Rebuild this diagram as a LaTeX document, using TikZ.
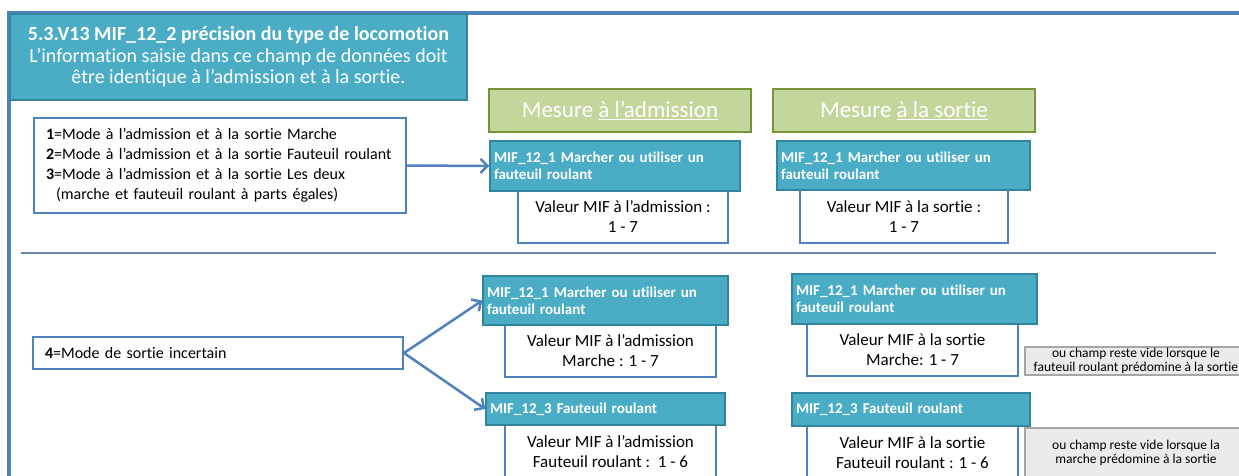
\documentclass[tikz,border=0pt]{standalone}
\usepackage{fontspec}
\setmainfont{Carlito}[Ligatures=NoCommon]
\usepackage{xcolor}
\usepackage{tikz}
\usetikzlibrary{arrows.meta,positioning,calc}

\definecolor{cadrebleu}{HTML}{4F81BD}
\definecolor{lignegris}{HTML}{6A86B0}
\definecolor{mifbleu}{HTML}{4BACC6}
\definecolor{mifbord}{HTML}{31859C}
\definecolor{vertclair}{HTML}{C3D69B}
\definecolor{vertfonce}{HTML}{77933C}
\definecolor{notefond}{HTML}{EBEBEB}
\definecolor{notebord}{HTML}{A6A6A6}

\tikzset{
  titre/.style={draw=mifbord, fill=mifbleu, line width=2pt, text=white, align=center,
    font=\fontsize{20}{21.5}\selectfont, minimum width=457pt, minimum height=86pt, inner sep=0pt},
  liste/.style={draw=cadrebleu, fill=white, line width=2pt, align=left,
    font=\fontsize{16}{20}\selectfont, inner xsep=12pt, inner ysep=0pt},
  mesure/.style={draw=vertfonce, fill=vertclair, line width=2.5pt, text=white,
    font=\fontsize{23}{24}\selectfont, minimum width=262pt, minimum height=43pt},
  mif/.style={draw=mifbord, fill=mifbleu, line width=1.5pt, text=white, align=left,
    font=\bfseries\fontsize{15}{17}\selectfont, inner xsep=4pt, inner ysep=0pt},
  valeur/.style={draw=cadrebleu, fill=white, line width=2pt, align=center,
    font=\fontsize{17}{20}\selectfont, minimum width=211pt, minimum height=52pt, inner sep=0pt},
  note/.style={draw=notebord, fill=notefond, line width=1.5pt, align=center,
    font=\fontsize{13.5}{14.5}\selectfont, minimum width=222pt, inner sep=0pt},
  fleche/.style={draw=cadrebleu, line width=2.5pt, -{Straight Barb[length=7pt,width=14pt]}}
}

\begin{document}
\begin{tikzpicture}[x=1pt,y=-1pt]
\clip (0,0) rectangle (1239,476);
\fill[white] (0,0) rectangle (1239,476);

% cadre et separation
\draw[draw=cadrebleu, line width=3.5pt] (1250,13) -- (9,13) -- (9,490);
\draw[draw=lignegris, line width=2pt] (21,253) -- (1216,253);

% titre
\node[titre] (titre) at (238.5,57) {\textbf{5.3.V13 MIF\_12\_2 précision du type de locomotion}\\
  L’information saisie dans ce champ de données doit\\
  être identique à l’admission et à la sortie.};

% en-tetes
\node[mesure] (mesadm) at (620,110.5) {Mesure \underline{à l’admission}};
\node[mesure] (messor) at (904,110.5) {Mesure \underline{à la sortie}};

% modes 1 a 3
\node[liste, text width=348pt, minimum height=95pt] (modes) at (220,165.5) {%
  \textbf{1}=Mode à l’admission et à la sortie Marche\\
  \textbf{2}=Mode à l’admission et à la sortie Fauteuil roulant\\
  \textbf{3}=Mode à l’admission et à la sortie Les deux\\
  \hspace*{10pt}(marche et fauteuil roulant à parts égales)};

\node[valeur, minimum width=210pt, minimum height=53pt] (valadm) at (623,216.5) {Valeur MIF à l’admission :\\1 - 7};
\node[valeur, minimum width=208pt, minimum height=53pt] (valsor) at (904,216.5) {Valeur MIF à la sortie :\\1 - 7};
\node[mif, text width=242pt, minimum height=50pt] (mifadm) at (615,166) {MIF\_12\_1 Marcher ou utiliser un\\fauteuil roulant};
\node[mif, text width=245pt, minimum height=49pt] (mifsor) at (903.5,165.5) {MIF\_12\_1 Marcher ou utiliser un\\fauteuil roulant};

\draw[fleche] (modes.east) -- (mifadm.west);

% mode 4
\node[liste, text width=346pt, minimum height=32pt] (incertain) at (218,353) {\textbf{4}=Mode de sortie incertain};

\node[valeur] (valadmm) at (610.5,351) {Valeur MIF à l’admission\\Marche : 1 - 7};
\node[mif, text width=237pt, minimum height=49pt] (mifadmm) at (605.5,300.5) {MIF\_12\_1 Marcher ou utiliser un\\fauteuil roulant};
\node[valeur, minimum height=53pt] (valadmf) at (610.5,451.5) {Valeur MIF à l’admission\\Fauteuil roulant :\ \ 1 - 6};
\node[mif, text width=231pt, minimum height=32pt] (mifadmf) at (605.5,409) {MIF\_12\_3 Fauteuil roulant};

\node[valeur] (valsorm) at (912.5,350) {Valeur MIF à la sortie\\Marche: 1 - 7};
\node[mif, text width=237pt, minimum height=50pt] (mifsorm) at (914.5,299) {MIF\_12\_1 Marcher ou utiliser un\\fauteuil roulant};
\node[valeur, minimum height=53pt] (valsorf) at (912.5,452.5) {Valeur MIF à la sortie\\Fauteuil roulant : 1 - 6};
\node[mif, text width=230pt, minimum height=33pt] (mifsorf) at (911,409.5) {MIF\_12\_3 Fauteuil roulant};

\node[note, minimum height=28pt] (notem) at (1136,361) {ou champ reste vide lorsque le\\fauteuil roulant prédomine à la sortie};
\node[note, minimum height=50pt] (notef) at (1136,453) {ou champ reste vide lorsque la\\marche prédomine à la sortie};

\draw[fleche] (incertain.east) -- (mifadmm.west);
\draw[fleche] (incertain.east) -- (mifadmf.west);
\end{tikzpicture}
\end{document}
